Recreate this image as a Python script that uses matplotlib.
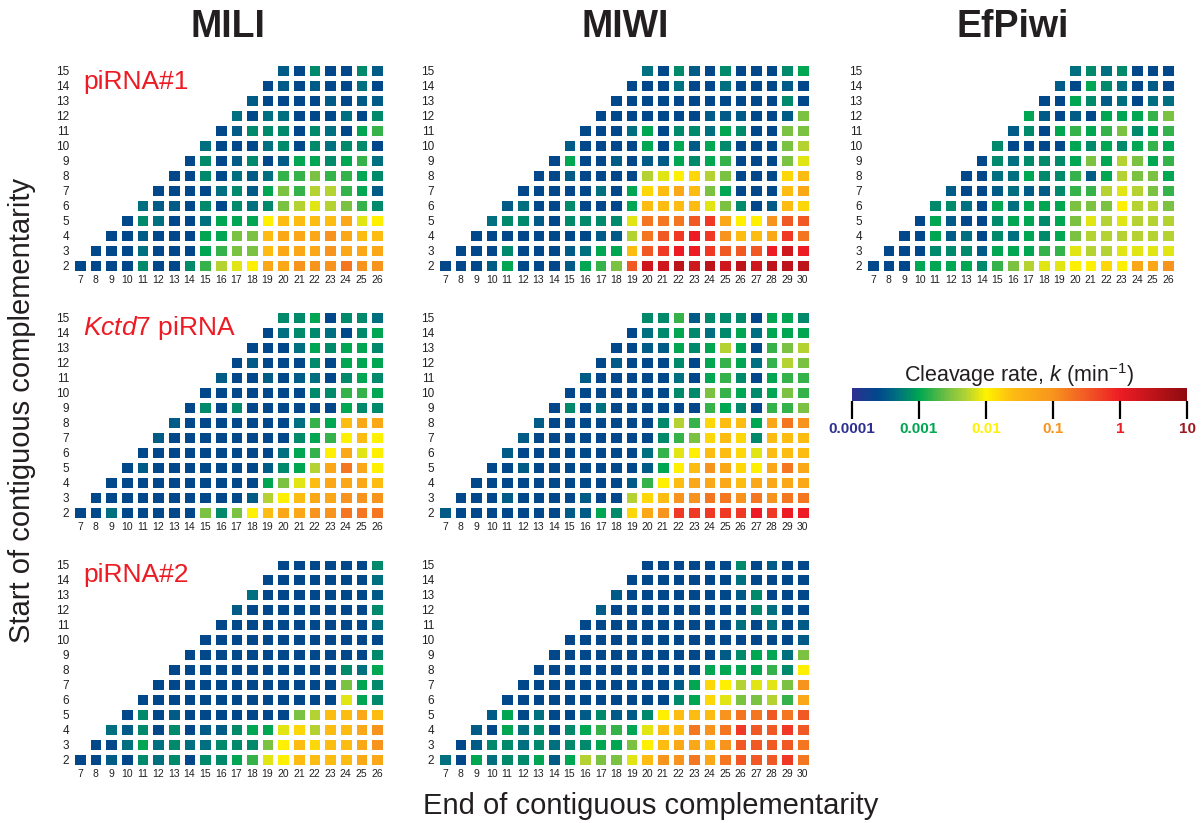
import numpy as np
import matplotlib
matplotlib.use('Agg')
import matplotlib.pyplot as plt
from matplotlib.colors import LinearSegmentedColormap, LogNorm
from matplotlib.cm import ScalarMappable

plt.rcParams['font.family'] = ['Liberation Sans', 'DejaVu Sans']
plt.rcParams['mathtext.fontset'] = 'custom'
plt.rcParams['mathtext.rm'] = 'Liberation Sans'
plt.rcParams['mathtext.it'] = 'Liberation Sans:italic'

W, H = 1204, 823

# colour class of each cell -> log10 of cleavage rate k (min^-1)
code_log_k = {'0': -3.62, '1': -3.47, '2': -3.32, '3': -3.17, '4': -3.0,
              '5': -2.8, '6': -2.55, '7': -2.3, '8': -2.12, '9': -1.98,
              'Y': -1.8, 'a': -1.6, 'b': -1.3, 'c': -1.0, 'd': -0.75,
              'e': -0.5, 'f': -0.25, 'g': 0.0, 'h': 0.3, 'i': 0.5}

# start positions, top row first; each row begins at end = start + 5
starts = list(range(15, 1, -1))

mili_1 = ["1030031", "01010020", "100001011", "2022000203", "01333032045",
          "200023032330", "0301301443452", "00302125565543", "000023146577541",
          "2110303236787653", "0320024449aaaab89", "0010004466abbbcbaa",
          "00020004566abbbcbbb", "000030035789bbcccdcc"]
miwi_1 = ["20310300034", "000200200010", "0000000000030", "00000001110016",
          "000240332430066", "1000040414300067", "04001011434500068",
          "0010000789Y76000Ya", "00000204Yaba64000ab", "120030004aaaa86301aY",
          "2331033338dddefb99cee", "00000000117defgfcaabfd",
          "00030001244aefggfeeeghg", "000140001456ehhihihihiii"]
efpiwi_1 = ["2323000", "10432010", "004312022", "4101044456", "13045456345",
            "300004343454", "0323334647645", "00224335147664", "100121135578765",
            "3320424446669776", "04100344346878777", "004120324346777777",
            "0003331444558778888", "000444435678899Y9bbc"]
mili_kctd7 = ["3340332", "02332034", "000243443", "0100030444", "10010120343",
              "000000033554", "0303000000433", "10000000254abb", "1000000003459a9",
              "0000000002459b89", "0100000001347bdb9", "0000000000468abbba",
              "0000000000179abbccc", "002000006369abbccddd"]
miwi_kctd7 = ["33513330443", "023432342444", "0011434740567", "01000304542576",
              "100000204530455", "0000000336543465", "03020000005430556",
              "10000000375Yaa4bdc", "100000000356YaY3aaa", "1000000002589aaY8aaa",
              "0010000000149acbY9bdb", "0000000000159abbbabbbb",
              "000100001007Yaccddcdcdd", "100000001143Ybcfffffgfgg"]
mili_2 = ["0000003", "00000002", "200000001", "1000000003", "00000000002",
          "000000000000", "0000000000003", "00000000000324", "000000000000643",
          "0000000000000843", "0301000000067aaba", "213030113448Y7aabc",
          "0024232233369aYaabc", "00103230334589aaaabb"]
miwi_2 = ["00000030100", "000000020000", "1000000013000", "10000000003200",
          "000000000020201", "0000000000000001", "00000000000134426",
          "000000000004444539", "000000000014Y97886c", "0000000000034Y86675b",
          "140200131139aaacddede", "104230345548aadcdfeefe",
          "0133232334469abbaceeeed", "2042334147668accdbdeeefd"]

titles = ['MILI', 'MIWI', 'EfPiwi']
guide_labels = ['piRNA#1', r'$\mathit{Kctd7}$ piRNA', 'piRNA#2']
cbar_ticks = [1e-4, 1e-3, 1e-2, 1e-1, 1, 10]
cbar_labels = ['0.0001', '0.001', '0.01', '0.1', '1', '10']
cbar_colors = ['#2e3192', '#00a651', '#fff200', '#f7941d', '#ed1c24', '#9e1b20']

stops = [(-4.0, '#2e3192'), (-3.62, '#00488b'), (-3.32, '#007180'),
         (-3.0, '#00a651'), (-2.55, '#7cc242'), (-2.3, '#b3d234'),
         (-2.0, '#fff200'), (-1.6, '#fdbb12'), (-1.0, '#f7941d'),
         (-0.5, '#f15a24'), (0.0, '#ed1c24'), (1.0, '#8e0b10')]
cmap = LinearSegmentedColormap.from_list('cleave', [((v + 4) / 5, c) for v, c in stops])
norm = LogNorm(vmin=1e-4, vmax=10)


def build(rows, last_end):
    ends = np.arange(7, last_end + 1)
    k = np.full((14, len(ends)), np.nan)
    for s, row in zip(starts, rows):
        assert len(row) == last_end - s - 4, (s, row)
        for j, ch in enumerate(row):
            k[s - 2, s - 2 + j] = 10 ** code_log_k[ch]
    return ends, np.ma.masked_invalid(k)


def px_box(x0, x1, y0, y1):
    return [x0 / W, 1 - y1 / H, (x1 - x0) / W, (y1 - y0) / H]


col_px = [(72.2, 384.8), (437.2, 810.5), (865.2, 1175.8)]
row_px = [(63.2, 273.2), (309.8, 520.2), (557.5, 766.5)]

panels = [(mili_1, 26, 0, 0), (miwi_1, 30, 0, 1), (efpiwi_1, 26, 0, 2),
          (mili_kctd7, 26, 1, 0), (miwi_kctd7, 30, 1, 1),
          (mili_2, 26, 2, 0), (miwi_2, 30, 2, 1)]

fig = plt.figure(figsize=(W / 100, H / 100), dpi=100)

for rows, last, r, c in panels:
    ax = fig.add_axes(px_box(*col_px[c], *row_px[r]))
    ends, k = build(rows, last)
    ax.pcolormesh(np.arange(6.5, last + 1), np.arange(1.5, 16), k,
                  cmap=cmap, norm=norm, edgecolors='white', linewidth=2.3)
    ax.set_xlim(6.5, last + 0.5)
    ax.set_ylim(1.5, 15.5)
    ax.set_xticks(ends)
    ax.set_yticks(range(2, 16))
    ax.tick_params(axis='x', length=0, pad=1.5, labelsize=7.5, labelcolor='#231f20')
    ax.tick_params(axis='y', length=0, pad=2, labelsize=8.5, labelcolor='#231f20')
    for sp in ax.spines.values():
        sp.set_visible(False)

title_x = [228, 625, 1013]
for t, x in zip(titles, title_x):
    fig.text(x / W, 1 - 27 / H, t, ha='center', va='center',
             fontsize=27, fontweight='bold', color='#231f20')

guide_y = [89, 335, 582]
for lab, y in zip(guide_labels, guide_y):
    fig.text(83 / W, 1 - y / H, lab, ha='left', va='baseline',
             fontsize=19, color='#ed1c24')

fig.text(22 / W, 1 - 410 / H, 'Start of contiguous complementarity',
         rotation=90, ha='center', va='center', fontsize=21, color='#231f20')
fig.text(651 / W, 1 - 806 / H, 'End of contiguous complementarity',
         ha='center', va='center', fontsize=21, color='#231f20')

cax = fig.add_axes(px_box(852, 1187, 388, 401))
cb = fig.colorbar(ScalarMappable(norm=norm, cmap=cmap), cax=cax, orientation='horizontal')
cb.outline.set_visible(False)
cb.set_ticks(cbar_ticks)
cb.set_ticklabels(cbar_labels)
cax.xaxis.set_minor_locator(matplotlib.ticker.NullLocator())
cax.tick_params(axis='x', length=13, width=1.6, pad=2, labelsize=11)
for tick, col in zip(cax.xaxis.get_major_ticks(), cbar_colors):
    tick.tick1line.set_color(col)
    tick.label1.set_color(col)
    tick.label1.set_fontweight('bold')
fig.text(1019.5 / W, 1 - 375 / H, r'Cleavage rate, $k$ (min$^{-1}$)',
         ha='center', va='center', fontsize=15.5, color='#231f20')

fig.savefig('out.png', dpi=100)
